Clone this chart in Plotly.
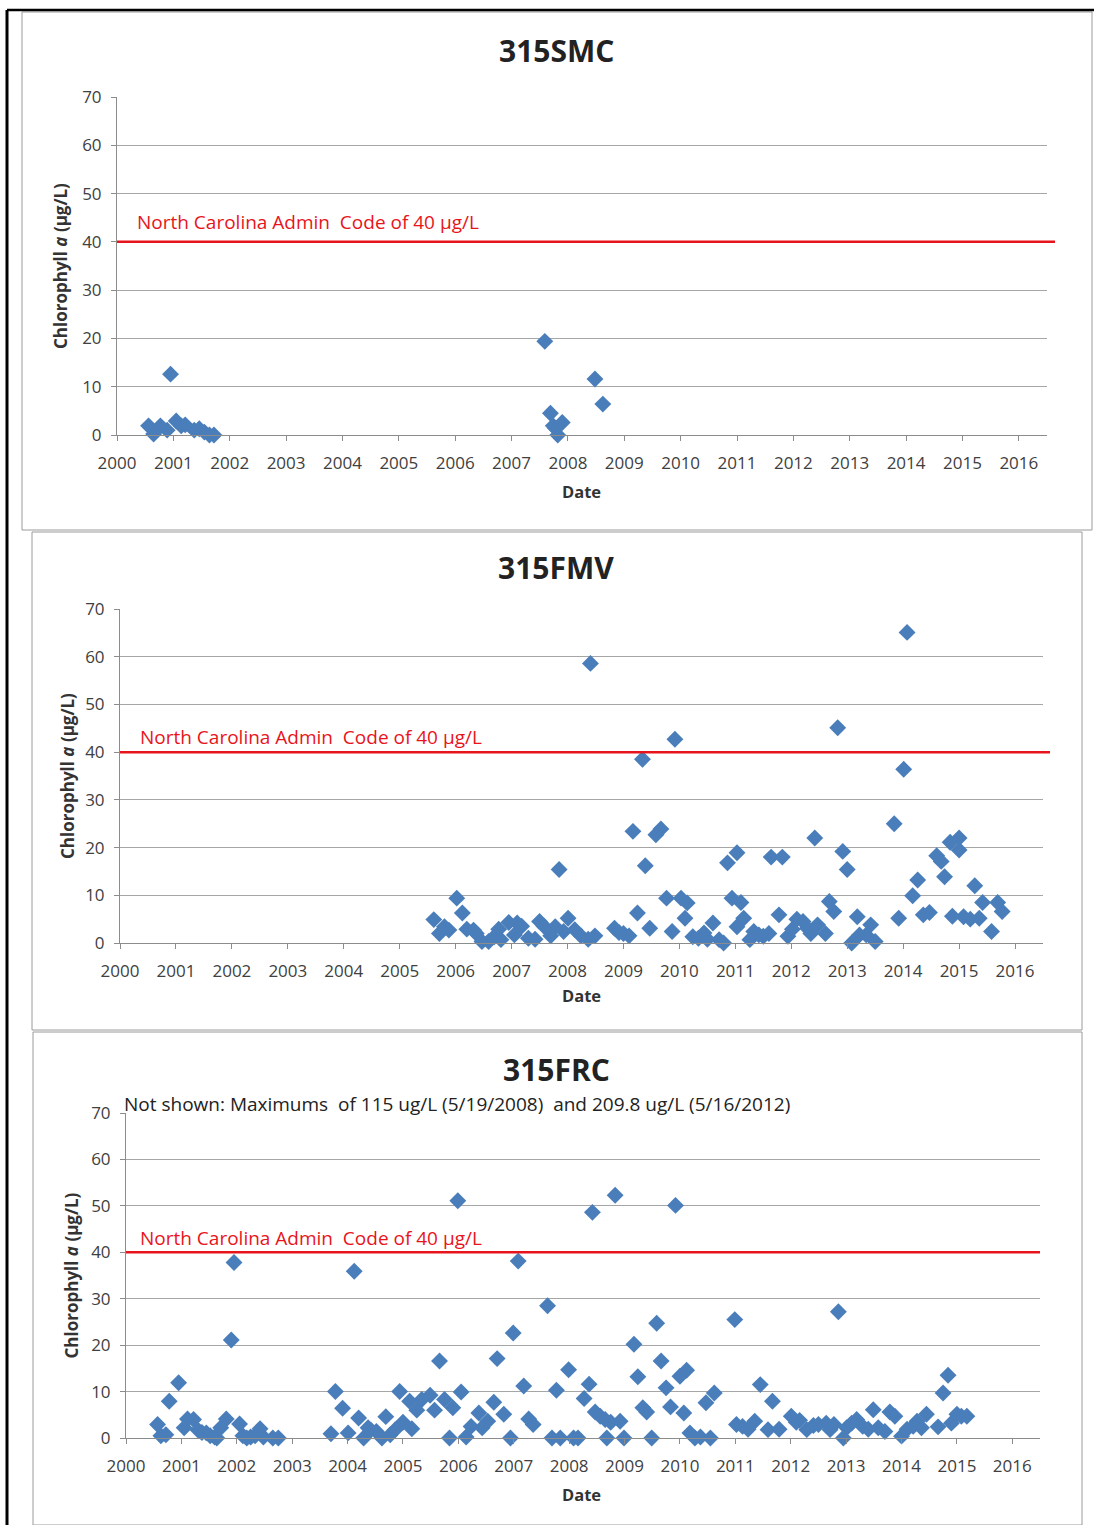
import plotly.graph_objects as go

W, H = 1094, 1525

# sample dates as decimal years, chlorophyll a in ug/L
smc_year = [2000.56, 2000.65, 2000.77, 2000.89, 2000.95, 2001.05, 2001.14, 2001.21, 2001.37,
            2001.46, 2001.55, 2001.64, 2001.72, 2007.59, 2007.69, 2007.74, 2007.78, 2007.82,
            2007.90, 2008.48, 2008.62]
smc_chl = [1.9, 0.2, 1.9, 1.0, 12.6, 2.9, 1.9, 2.1, 1.0, 1.3, 0.6, 0.0, 0.0, 19.4, 4.5, 1.9,
           1.4, 0.0, 2.6, 11.6, 6.4]

fmv_year = [2005.61, 2005.71, 2005.80, 2005.88, 2006.02, 2006.12, 2006.20, 2006.32, 2006.37,
            2006.47, 2006.59, 2006.69, 2006.77, 2006.81, 2006.95, 2007.05, 2007.10, 2007.18,
            2007.30, 2007.42, 2007.50, 2007.58, 2007.70, 2007.78, 2007.85, 2007.93, 2008.01,
            2008.13, 2008.24, 2008.37, 2008.41, 2008.49, 2008.84, 2008.92, 2009.00, 2009.10,
            2009.17, 2009.25, 2009.34, 2009.39, 2009.47, 2009.58, 2009.67, 2009.77, 2009.87,
            2009.92, 2010.03, 2010.10, 2010.14, 2010.24, 2010.34, 2010.44, 2010.50, 2010.60,
            2010.71, 2010.79, 2010.86, 2010.94, 2011.03, 2011.03, 2011.10, 2011.15, 2011.26,
            2011.33, 2011.42, 2011.50, 2011.60, 2011.64, 2011.78, 2011.84, 2011.94, 2012.02,
            2012.10, 2012.21, 2012.29, 2012.35, 2012.42, 2012.47, 2012.61, 2012.68, 2012.76,
            2012.83, 2012.92, 2013.00, 2013.08, 2013.18, 2013.22, 2013.34, 2013.42, 2013.50,
            2013.84, 2013.92, 2014.01, 2014.07, 2014.17, 2014.26, 2014.36, 2014.47, 2014.60,
            2014.68, 2014.74, 2014.84, 2014.88, 2015.00, 2015.00, 2015.08, 2015.20, 2015.28,
            2015.36, 2015.42, 2015.58, 2015.69, 2015.77]
fmv_chl = [4.9, 2.0, 3.4, 2.7, 9.4, 6.3, 2.9, 2.7, 2.0, 0.3, 0.3, 1.3, 2.9, 0.7, 4.3, 1.7, 4.2,
           3.5, 1.0, 0.8, 4.5, 3.5, 1.5, 3.4, 15.4, 2.4, 5.2, 2.8, 1.5, 0.8, 58.6, 1.5, 3.1, 2.2,
           2.0, 1.5, 23.4, 6.3, 38.5, 16.2, 3.1, 22.7, 23.9, 9.4, 2.4, 42.7, 9.4, 5.2, 8.4, 1.3,
           1.0, 2.1, 0.8, 4.2, 0.7, 0.0, 16.8, 9.4, 18.9, 3.4, 8.5, 5.2, 0.7, 2.4, 1.7, 1.4, 2.0,
           18.0, 5.9, 18.0, 1.4, 2.9, 5.0, 4.5, 3.1, 2.0, 22.0, 3.8, 2.0, 8.7, 6.6, 45.1, 19.2,
           15.4, 0.0, 5.5, 1.7, 1.7, 3.8, 0.3, 25.0, 5.2, 36.4, 65.1, 9.9, 13.2, 5.9, 6.4, 18.3,
           17.1, 13.9, 21.1, 5.6, 22.0, 19.5, 5.5, 5.0, 12.0, 5.2, 8.5, 2.4, 8.5, 6.6]

frc_year = [2000.57, 2000.63, 2000.72, 2000.78, 2000.95, 2001.05, 2001.11, 2001.22, 2001.30,
            2001.37, 2001.45, 2001.52, 2001.60, 2001.64, 2001.71, 2001.81, 2001.90, 2001.95,
            2002.05, 2002.11, 2002.18, 2002.25, 2002.33, 2002.42, 2002.48, 2002.65, 2002.75,
            2003.70, 2003.78, 2003.91, 2004.01, 2004.12, 2004.20, 2004.29, 2004.37, 2004.42,
            2004.52, 2004.62, 2004.69, 2004.77, 2004.86, 2004.94, 2005.00, 2005.12, 2005.16,
            2005.25, 2005.34, 2005.49, 2005.57, 2005.66, 2005.75, 2005.84, 2005.90, 2005.99,
            2006.05, 2006.14, 2006.23, 2006.37, 2006.43, 2006.53, 2006.64, 2006.70, 2006.82,
            2006.94, 2006.99, 2007.08, 2007.18, 2007.27, 2007.35, 2007.61, 2007.69, 2007.77,
            2007.84, 2007.99, 2008.08, 2008.16, 2008.27, 2008.36, 2008.42, 2008.47, 2008.56,
            2008.65, 2008.68, 2008.75, 2008.83, 2008.92, 2008.99, 2009.17, 2009.24, 2009.33,
            2009.40, 2009.49, 2009.58, 2009.66, 2009.75, 2009.83, 2009.92, 2010.00, 2010.07,
            2010.12, 2010.18, 2010.27, 2010.37, 2010.47, 2010.55, 2010.62, 2010.99, 2011.02,
            2011.13, 2011.23, 2011.35, 2011.45, 2011.59, 2011.67, 2011.79, 2012.01, 2012.10,
            2012.16, 2012.29, 2012.41, 2012.50, 2012.64, 2012.71, 2012.78, 2012.86, 2012.95,
            2013.01, 2013.10, 2013.19, 2013.30, 2013.40, 2013.49, 2013.58, 2013.70, 2013.79,
            2013.88, 2014.00, 2014.10, 2014.21, 2014.28, 2014.36, 2014.45, 2014.66, 2014.75,
            2014.84, 2014.90, 2015.00, 2015.08, 2015.18]
frc_chl = [2.9, 0.5, 0.7, 7.9, 11.9, 2.2, 4.1, 4.0, 1.7, 1.2, 1.1, 0.5, 0.2, 0.0, 2.2, 4.1, 21.1,
           37.8, 3.0, 0.5, 0.0, 0.2, 0.5, 2.0, 0.2, 0.0, 0.0, 0.9, 10.0, 6.4, 1.1, 35.9, 4.3, 0.0,
           2.2, 1.7, 1.4, 0.0, 4.6, 0.7, 1.8, 10.0, 3.4, 7.9, 2.0, 6.0, 8.3, 9.2, 6.0, 16.6, 8.3,
           0.0, 6.5, 51.1, 9.9, 0.2, 2.5, 5.4, 2.2, 3.6, 7.7, 17.1, 5.1, 0.0, 22.6, 38.1, 11.2,
           4.1, 2.9, 28.5, 0.0, 10.3, 0.0, 14.7, 0.0, 0.0, 8.5, 11.6, 48.6, 5.6, 4.7, 4.0, 0.0,
           3.4, 52.3, 3.6, 0.0, 20.2, 13.2, 6.5, 5.6, 0.0, 24.7, 16.6, 10.8, 6.7, 50.1, 13.3, 5.4,
           14.6, 1.1, 0.0, 0.2, 7.6, 0.0, 9.7, 25.5, 2.9, 2.5, 1.9, 3.6, 11.5, 1.8, 7.9, 1.9, 4.7,
           3.4, 3.8, 1.8, 2.7, 2.9, 3.2, 1.8, 2.9, 27.2, 0.0, 2.2, 3.2, 4.0, 2.5, 1.9, 6.1, 2.2,
           1.4, 5.6, 4.7, 0.4, 1.9, 2.5, 3.6, 2.2, 5.1, 2.4, 9.7, 13.5, 3.2, 5.1, 4.7, 4.7]

years = list(range(2000, 2017))
limit = 40
titles = ["315SMC", "315FMV", "315FRC"]
note = "Not shown: Maximums  of 115 ug/L (5/19/2008)  and 209.8 ug/L (5/16/2012)"

# pixel layout of each panel: box, plot area, text anchors
panels = [
    dict(x=smc_year, y=smc_chl, box=(22, 12, 1092, 530), plot=(117, 97, 1047, 435),
         red_end=1055, title_y=50, ytitle_x=60, date_y=492, lab_x=135, lab_y=44.1),
    dict(x=fmv_year, y=fmv_chl, box=(32, 532, 1082, 1030), plot=(120, 609, 1043, 943),
         red_end=1050, title_y=567, ytitle_x=67, date_y=996, lab_x=138, lab_y=43.2),
    dict(x=frc_year, y=frc_chl, box=(33, 1032, 1082, 1525), plot=(126, 1113, 1040, 1438),
         red_end=1040, title_y=1069, ytitle_x=71, date_y=1494, lab_x=138, lab_y=43.1),
]

FONT = "Open Sans"
px = lambda v: v / W
py = lambda v: 1 - v / H

fig = go.Figure()
shapes, annotations = [], []

def note_at(text, x, y, size, color, xanchor="center", **kw):
    d = dict(text=text, x=x, y=y, xref="paper", yref="paper", showarrow=False,
             xanchor=xanchor, yanchor="middle", font=dict(family=FONT, size=size, color=color))
    d.update(kw)
    return d

for i, p in enumerate(panels):
    n = "" if i == 0 else str(i + 1)
    x0, y0, x1, y1 = p["plot"]
    fig.add_trace(go.Scatter(
        x=p["x"], y=p["y"], mode="markers", xaxis="x" + n, yaxis="y" + n,
        marker=dict(symbol="diamond", size=13, color="#4A7EBB"),
        cliponaxis=False, showlegend=False))

    fig.update_layout({
        "xaxis" + n: dict(domain=[px(x0), px(x1)], anchor="y" + n, range=[2000, 2016.5],
                          tickvals=years, ticks="outside", ticklen=5, tickcolor="#8c8c8c",
                          showline=True, linecolor="#8c8c8c", showgrid=False, zeroline=False,
                          ticklabelstandoff=8, automargin=False,
                          tickfont=dict(family=FONT, size=17, color="#404040")),
        "yaxis" + n: dict(domain=[py(y1), py(y0)], anchor="x" + n, range=[0, 70], dtick=10,
                          ticks="outside", ticklen=5, tickcolor="#8c8c8c",
                          showline=True, linecolor="#8c8c8c", showgrid=True,
                          gridcolor="#a6a6a6", gridwidth=1, zeroline=False,
                          ticklabelstandoff=6, automargin=False,
                          tickfont=dict(family=FONT, size=17, color="#404040")),
    })

    bx0, by0, bx1, by1 = p["box"]
    shapes.append(dict(type="rect", xref="paper", yref="paper", x0=px(bx0), x1=px(bx1),
                       y0=py(by1), y1=py(by0), line=dict(color="#9a9a9a", width=1)))
    shapes.append(dict(type="line", xref="paper", yref="y" + n, x0=px(x0), x1=px(p["red_end"]),
                       y0=limit, y1=limit, line=dict(color="#e8141b", width=2.5)))

    annotations += [
        note_at("<b>%s</b>" % titles[i], px(556), py(p["title_y"]), 30, "#222"),
        note_at("<b>Chlorophyll <i>a</i> (µg/L)</b>", px(p["ytitle_x"]), py((y0 + y1) / 2),
                17, "#333", textangle=-90),
        note_at("<b>Date</b>", px(582), py(p["date_y"]), 16.5, "#333"),
        dict(text="North Carolina Admin  Code of 40 µg/L", x=px(p["lab_x"]), y=p["lab_y"],
             xref="paper", yref="y" + n, xanchor="left", yanchor="middle", showarrow=False,
             font=dict(family=FONT, size=19, color="#e8141b")),
    ]

annotations.append(note_at(note, px(122), py(1104), 19, "#222", xanchor="left"))

# black outer frame: left and top edges only
shapes.append(dict(type="line", xref="paper", yref="paper", x0=px(7), x1=px(7),
                   y0=0, y1=py(10), line=dict(color="black", width=3)))
shapes.append(dict(type="line", xref="paper", yref="paper", x0=px(7), x1=1,
                   y0=py(10), y1=py(10), line=dict(color="black", width=2.5)))

fig.update_layout(width=W, height=H, autosize=False,
                  margin=dict(l=0, r=0, t=0, b=0, pad=0, autoexpand=False),
                  paper_bgcolor="white", plot_bgcolor="white",
                  shapes=shapes, annotations=annotations)

fig.write_html("out.html", config={"displayModeBar": False},
               post_script="document.body.style.margin='0';")
